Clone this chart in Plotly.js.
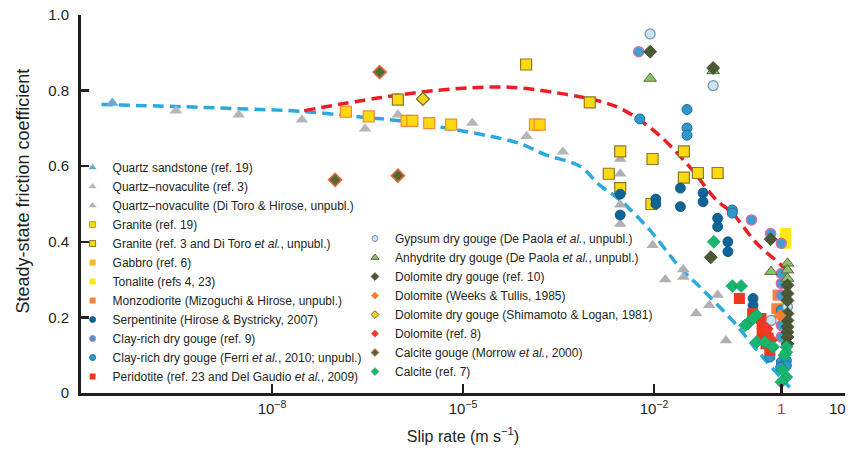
<!DOCTYPE html>
<html>
<head>
<meta charset="utf-8">
<script src="https://cdn.plot.ly/plotly-3.0.1.min.js"></script>
<style>
  html, body { margin: 0; padding: 0; background: #fff; }
  #chart { width: 852px; height: 450px; }
</style>
</head>
<body>
<div id="chart"></div>
<script>
// Slip rate (m/s) and steady-state friction coefficient for each rock type
const quartzSandstoneX = [3.1e-11];
const quartzSandstoneY = [0.767];

const novaculiteRef3X = [3.1e-10, 3.0e-9, 2.95e-8, 2.9e-7, 9.5e-7, 1.4e-5, 1.0e-4, 3.7e-4];
const novaculiteRef3Y = [0.747, 0.736, 0.723, 0.699, 0.736, 0.714, 0.679, 0.638];

const novaculiteDTX = [2.95e-3, 2.95e-3, 2.95e-3, 2.95e-3, 9.5e-3, 0.015, 0.029, 0.029, 0.046, 0.074, 0.1, 0.135];
const novaculiteDTY = [0.619, 0.58, 0.498, 0.447, 0.391, 0.3, 0.327, 0.307, 0.21, 0.232, 0.259, 0.139];

const graniteRef19X = [1.45e-7, 3.3e-7, 1.3e-6, 1.6e-6, 2.95e-6, 6.5e-6, 1.35e-4, 1.6e-4];
const graniteRef19Y = [0.744, 0.732, 0.72, 0.72, 0.714, 0.71, 0.71, 0.71];

const graniteRef3X = [9.5e-7, 9.8e-5, 9.8e-4, 2.95e-3, 9.5e-3, 0.0295, 1.95e-3, 0.0295, 0.049, 0.1, 2.95e-3, 9.1e-3];
const graniteRef3Y = [0.776, 0.869, 0.769, 0.639, 0.619, 0.639, 0.58, 0.57, 0.582, 0.582, 0.542, 0.5];

const gabbroX = [1.17];
const gabbroY = [0.405];

const tonaliteX = [1.17, 1.17, 1.2];
const tonaliteY = [0.422, 0.396, 0.237];

const monzodioriteX = [0.89, 0.85];
const monzodioriteY = [0.259, 0.223];

const serpentiniteX = [2.95e-3, 2.95e-3, 0.0107, 0.0107, 0.026, 0.026, 0.059, 0.059, 0.1, 0.1, 0.145, 0.145, 0.36, 0.36];
const serpentiniteY = [0.526, 0.471, 0.513, 0.5, 0.542, 0.493, 0.529, 0.506, 0.462, 0.44, 0.4, 0.374, 0.25, 0.232];

const clayRef9X = [5.75e-3, 0.34, 0.68, 1.0, 1.0, 1.0, 1.0, 1.0, 1.0];
const clayRef9Y = [0.903, 0.458, 0.422, 0.396, 0.316, 0.29, 0.259, 0.179, 0.148];

const clayFerriX = [0.033, 0.033, 0.033, 6.0e-3, 0.17, 0.17, 1.0, 1.0, 0.66, 1.2, 1.2, 0.98];
const clayFerriY = [0.75, 0.701, 0.682, 0.725, 0.484, 0.476, 0.219, 0.082, 0.095, 0.086, 0.073, 0.068];

const peridotiteX = [0.22, 0.355, 0.48, 0.51, 0.575, 0.5, 0.575, 0.66, 0.5, 0.62];
const peridotiteY = [0.25, 0.21, 0.197, 0.175, 0.161, 0.157, 0.13, 0.113, 0.184, 0.145];

const gypsumX = [8.7e-3, 0.085, 0.69, 1.25];
const gypsumY = [0.95, 0.813, 0.192, 0.228];

const anhydriteX = [8.7e-3, 0.085, 0.69, 1.25, 1.25, 1.25];
const anhydriteY = [0.832, 0.852, 0.321, 0.343, 0.325, 0.303];

const dolomiteRef10X = [8.7e-3, 0.085, 0.078, 0.68, 1.25, 1.25, 1.25, 1.25, 1.25, 1.25, 1.25, 1.25, 1.25];
const dolomiteRef10Y = [0.903, 0.86, 0.359, 0.407, 0.285, 0.263, 0.245, 0.21, 0.192, 0.175, 0.161, 0.148, 0.13];

const dolomiteWeeksX = [0.95];
const dolomiteWeeksY = [0.205];

const dolomiteShimamotoX = [2.35e-6];
const dolomiteShimamotoY = [0.778];

const dolomiteRef8X = [0.6, 0.7];
const dolomiteRef8Y = [0.17, 0.14];

const calciteMorrowX = [4.9e-7, 9.8e-8, 9.5e-7];
const calciteMorrowY = [0.849, 0.564, 0.575];

const calciteRef7X = [0.087, 0.17, 0.234, 0.41, 0.3, 0.27, 0.355, 0.41, 0.55, 0.74, 1.2, 1.2, 1.2, 1.05, 1.0, 1.12];
const calciteRef7Y = [0.4, 0.283, 0.283, 0.206, 0.184, 0.179, 0.197, 0.135, 0.135, 0.122, 0.122, 0.108, 0.042, 0.06, 0.029, 0.1];

// Trend curves
const blueCurveX = [2.1e-11, 3.0e-10, 3.0e-9, 2.95e-8, 2.9e-7, 1e-6, 1.8e-5, 7.8e-5, 2.0e-4, 6.9e-4, 1.4e-3, 2.9e-3, 8.5e-3, 0.025, 0.059, 0.17, 0.46, 1.35];
const blueCurveY = [0.763, 0.758, 0.752, 0.745, 0.729, 0.72, 0.685, 0.66, 0.63, 0.6, 0.55, 0.511, 0.432, 0.334, 0.272, 0.192, 0.104, 0.015];

const redCurveX = [3.2e-8, 4.9e-7, 5.5e-6, 5.4e-5, 4.2e-4, 1.4e-3, 3.2e-3, 0.011, 0.036, 0.095, 0.17, 0.41, 0.93, 1.2];
const redCurveY = [0.747, 0.781, 0.803, 0.809, 0.79, 0.772, 0.75, 0.688, 0.599, 0.511, 0.476, 0.396, 0.343, 0.325];

// Axis ticks; the label at the right end of the axis is drawn as an annotation
const xTickVals = [1e-8, 1e-5, 1e-2, 1, 10];
const xTickText = ['10<sup>−8</sup>', '10<sup>−5</sup>', '10<sup>−2</sup>', '<span style="color:#e8202a">1</span>', ''];
const xEndValue = 10;
const xEndLabel = '10';
const yTickVals = [0, 0.2, 0.4, 0.6, 0.8, 1.0];
const yTickText = ['0', '0.2', '0.4', '0.6', '0.8', '1.0'];

const traces = [];

function line(xs, ys, color) {
  traces.push({
    type: 'scatter', mode: 'lines', x: xs, y: ys, showlegend: false, hoverinfo: 'skip',
    line: { color: color, width: 3.5, dash: '11px,6px', shape: 'spline', smoothing: 1 }
  });
}

// each series: the plotted points plus a small-symbol legend entry
const legendEntries = [];
function series(name, xs, ys, symbol, fill, edge, edgeWidth, size, legendId, legendSize) {
  traces.push({
    type: 'scatter', mode: 'markers', x: xs, y: ys, name: name, showlegend: false,
    marker: { symbol: symbol, color: fill, size: size, line: { color: edge, width: edgeWidth } }
  });
  legendEntries.push({
    type: 'scatter', mode: 'markers', x: [null], y: [null], name: name, legend: legendId,
    marker: { symbol: symbol, color: fill, size: legendSize || 6, line: { color: edge, width: Math.min(edgeWidth, 1) } }
  });
}

line(blueCurveX, blueCurveY, '#29a9df');
line(redCurveX, redCurveY, '#ee1c25');

series('Quartz sandstone (ref. 19)', quartzSandstoneX, quartzSandstoneY, 'triangle-up', '#6aa9cc', '#6aa9cc', 0, 11, 'legend', 7);
series('Quartz–novaculite (ref. 3)', novaculiteRef3X, novaculiteRef3Y, 'triangle-up', '#b4b6b9', '#b4b6b9', 0, 11, 'legend', 7);
series('Quartz–novaculite (Di Toro &amp; Hirose, unpubl.)', novaculiteDTX, novaculiteDTY, 'triangle-up', '#aeb0b3', '#aeb0b3', 0, 11, 'legend', 7);
series('Granite (ref. 19)', graniteRef19X, graniteRef19Y, 'square', '#ffd90f', '#f28a36', 1.2, 11, 'legend');
series('Granite (ref. 3 and Di Toro <i>et al.</i>, unpubl.)', graniteRef3X, graniteRef3Y, 'square', '#ffd90f', '#8a7a28', 1.2, 11, 'legend');
series('Gabbro (ref. 6)', gabbroX, gabbroY, 'square', '#fbb919', '#fbb919', 0, 11, 'legend');
series('Tonalite (refs 4, 23)', tonaliteX, tonaliteY, 'square', '#ffe90c', '#ffe90c', 0, 11, 'legend');
series('Monzodiorite (Mizoguchi &amp; Hirose, unpubl.)', monzodioriteX, monzodioriteY, 'square', '#f6823c', '#f6823c', 0, 11, 'legend');
series('Serpentinite (Hirose &amp; Bystricky, 2007)', serpentiniteX, serpentiniteY, 'circle', '#0e6496', '#0b5580', 0.8, 10, 'legend');
series('Clay-rich dry gouge (ref. 9)', clayRef9X, clayRef9Y, 'circle', '#3aa0d2', '#d96aa4', 1.5, 10, 'legend');
series('Clay-rich dry gouge (Ferri <i>et al.</i>, 2010; unpubl.)', clayFerriX, clayFerriY, 'circle', '#2f98cb', '#1c6f9a', 1, 10, 'legend');
series('Peridotite (ref. 23 and Del Gaudio <i>et al.</i>, 2009)', peridotiteX, peridotiteY, 'square', '#f2371f', '#f2371f', 0, 11, 'legend');

series('Gypsum dry gouge (De Paola <i>et al.</i>, unpubl.)', gypsumX, gypsumY, 'circle', '#c9e4f6', '#7d90a6', 1.2, 10, 'legend2');
series('Anhydrite dry gouge (De Paola <i>et al.</i>, unpubl.)', anhydriteX, anhydriteY, 'triangle-up', '#8cc26c', '#56693a', 1, 11, 'legend2', 7);
series('Dolomite dry gouge (ref. 10)', dolomiteRef10X, dolomiteRef10Y, 'diamond', '#4a5934', '#3c4a2a', 0.8, 10, 'legend2');
series('Dolomite (Weeks &amp; Tullis, 1985)', dolomiteWeeksX, dolomiteWeeksY, 'diamond', '#f57d2e', '#f57d2e', 0, 10, 'legend2');
series('Dolomite dry gouge (Shimamoto &amp; Logan, 1981)', dolomiteShimamotoX, dolomiteShimamotoY, 'diamond', '#f2d31a', '#6d6a2a', 1.2, 10, 'legend2');
series('Dolomite (ref. 8)', dolomiteRef8X, dolomiteRef8Y, 'diamond', '#ef3b2c', '#ef3b2c', 0, 10, 'legend2');
series('Calcite gouge (Morrow <i>et al.</i>, 2000)', calciteMorrowX, calciteMorrowY, 'diamond', '#4f6a34', '#e0683e', 1.6, 10, 'legend2');
series('Calcite (ref. 7)', calciteRef7X, calciteRef7Y, 'diamond', '#18b56c', '#13a060', 0.6, 10, 'legend2');

const font = 'Liberation Sans, Arial, Helvetica, sans-serif';
const axisColor = '#231f20';

const layout = {
  width: 852, height: 450,
  margin: { l: 81, r: 7, t: 15, b: 57, pad: 0 },
  paper_bgcolor: '#ffffff', plot_bgcolor: '#ffffff',
  font: { family: font, color: '#231f20' },
  showlegend: true,
  xaxis: {
    type: 'log', range: [-11.0, 1.0005],
    tickvals: xTickVals, ticktext: xTickText,
    ticks: 'inside', ticklen: 9, tickwidth: 2.5, tickcolor: axisColor,
    showline: true, linecolor: axisColor, linewidth: 3,
    showgrid: false, zeroline: false,
    tickfont: { size: 15, family: font, color: '#231f20' },
    title: { text: 'Slip rate (m s<sup>−1</sup>)', font: { size: 16, family: font }, standoff: 15 }
  },
  yaxis: {
    range: [0, 1.0],
    tickvals: yTickVals, ticktext: yTickText,
    ticks: 'inside', ticklen: 8, tickwidth: 2.5, tickcolor: axisColor,
    showline: true, linecolor: axisColor, linewidth: 3,
    showgrid: false, zeroline: false,
    tickfont: { size: 15, family: font, color: '#231f20' },
    ticklabelstandoff: 6
  },
  annotations: [
    {
      xref: 'paper', yref: 'paper', x: -0.0759, y: 0.533,
      xanchor: 'center', yanchor: 'middle',
      text: 'Steady-state friction coefficient', textangle: -90, showarrow: false,
      font: { size: 18, family: font, color: '#231f20' }
    },
    {
      xref: 'x', yref: 'paper', x: Math.log10(xEndValue), y: 0,
      xanchor: 'center', yanchor: 'middle', xshift: -7, yshift: -15.5,
      text: xEndLabel, showarrow: false,
      font: { size: 15, family: font, color: '#231f20' }
    }
  ],
  legend: {
    x: -0.011, xanchor: 'left', y: 0.635, yanchor: 'top',
    bgcolor: 'rgba(0,0,0,0)', borderwidth: 0,
    font: { size: 12, family: font, color: '#231f20' },
    itemsizing: 'trace', tracegroupgap: 0
  },
  legend2: {
    x: 0.3586, xanchor: 'left', y: 0.447, yanchor: 'top',
    bgcolor: 'rgba(0,0,0,0)', borderwidth: 0,
    font: { size: 12, family: font, color: '#231f20' },
    itemsizing: 'trace', tracegroupgap: 0
  }
};

Plotly.newPlot('chart', traces.concat(legendEntries), layout, { staticPlot: true, displayModeBar: false });
</script>
</body>
</html>
